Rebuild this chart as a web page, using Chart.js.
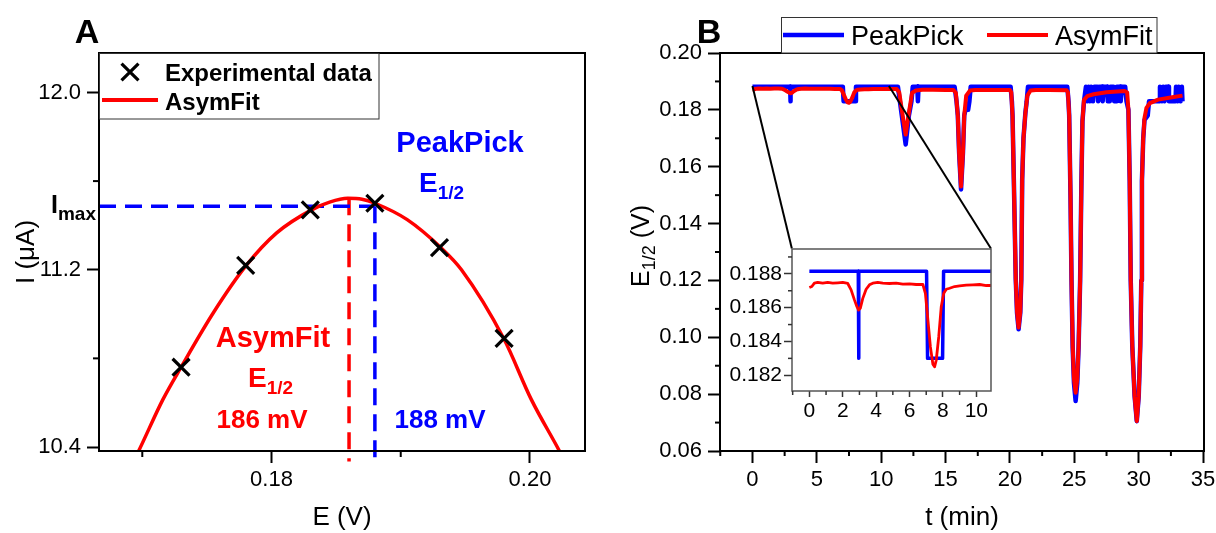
<!DOCTYPE html>
<html lang="en">
<head>
<meta charset="UTF-8">
<title>PeakPick vs AsymFit E1/2</title>
<script src="https://cdn.jsdelivr.net/npm/chart.js"></script>
<style>
body { margin:0; background:#fff; width:1216px; height:533px; overflow:hidden; position:relative; }
.box { position:absolute; }
#wrapA { left:0; top:0; width:610px; height:533px; }
#wrapB { left:610px; top:0; width:606px; height:533px; }
#wrapIn { left:725px; top:240px; width:275px; height:195px; }
</style>
</head>
<body>
<div class="box" id="wrapA"><canvas id="chartA" width="610" height="533"></canvas></div>
<div class="box" id="wrapB"><canvas id="chartB" width="606" height="533"></canvas></div>
<div class="box" id="wrapIn"><canvas id="chartIn" width="275" height="195"></canvas></div>
<script>
// ---- panel A: a single peak, experimental points and the AsymFit curve
const expE = [0.173, 0.178, 0.183, 0.188, 0.193, 0.198];
const expI = [10.76, 11.22, 11.47, 11.50, 11.30, 10.89];
const fitE = [0.1690, 0.1697, 0.1716, 0.1730, 0.1755, 0.1780, 0.1804, 0.1831, 0.1845, 0.1859, 0.1870, 0.1880, 0.1905, 0.1931, 0.1947, 0.1980, 0.2001, 0.2023, 0.2030];
const fitI = [10.30, 10.38, 10.615, 10.76, 11.006, 11.216, 11.366, 11.47, 11.505, 11.522, 11.518, 11.50, 11.426, 11.30, 11.20, 10.886, 10.615, 10.38, 10.30];
// dashed guides: Imax level, PeakPick E1/2 (188 mV), AsymFit E1/2 (186 mV)
const imaxE = [0.16665, 0.188];
const imaxI = [11.486, 11.486];
const ppE = [0.188, 0.188];
const ppI = [11.486, 10.335];
const afE = [0.186, 0.186];
const afI = [11.522, 10.335];
const aXLabels = [0.18, 0.20];
const aYLabels = [10.4, 11.2, 12.0];

// ---- panel B: E1/2 vs time, [t (min), E1/2 (V)]
const asymFit = [
  [0,0.18719],[0.15,0.18725],[0.3,0.18745],[0.5,0.1875],[0.8,0.18745],[1.1,0.18749],[1.4,0.18745],[1.7,0.18747],[2.0,0.18749],[2.3,0.18743],
  [2.5,0.18705],[2.7,0.18646],[2.85,0.18606],[2.95,0.18586],[3.05,0.18596],[3.2,0.18655],[3.4,0.18709],[3.6,0.18735],[3.8,0.18745],
  [4.1,0.18749],[4.4,0.18745],[4.8,0.18743],[5.2,0.18745],[5.6,0.18739],[6.0,0.18741],[6.4,0.18737],[6.8,0.18737],
  [6.95,0.18685],[7.1,0.18527],[7.25,0.18368],[7.4,0.18265],[7.5,0.1825],[7.6,0.18289],[7.75,0.18428],[7.9,0.18606],[8.05,0.18685],
  [8.2,0.18709],[8.4,0.18715],[8.7,0.18725],[9.0,0.18729],[9.4,0.18733],[9.8,0.18735],[10.2,0.18737],[10.6,0.18731],[10.9,0.18731],
  [11.2,0.1873],[11.4,0.1862],[11.6,0.18],[11.9,0.1713],[12.15,0.179],[12.4,0.186],[12.7,0.1868],[13.2,0.1871],[14.0,0.1871],[15.0,0.187],
  [15.6,0.187],[15.8,0.186],[15.95,0.178],[16.05,0.165],[16.2,0.153],[16.35,0.165],[16.45,0.178],[16.6,0.185],[16.9,0.1868],[17.3,0.187],[18.5,0.187],
  [20.0,0.187],[20.1,0.1862],[20.2,0.178],[20.3,0.1555],[20.45,0.1203],[20.55,0.109],[20.67,0.1034],[20.8,0.109],[20.88,0.1203],[20.95,0.1555],
  [21.05,0.17],[21.2,0.179],[21.35,0.185],[21.6,0.1868],[22.0,0.187],[23.0,0.187],
  [24.4,0.1869],[24.5,0.1862],[24.6,0.178],[24.7,0.15],[24.78,0.12],[24.87,0.097],[24.97,0.0855],[25.1,0.0805],[25.23,0.0855],[25.33,0.097],
  [25.45,0.12],[25.55,0.155],[25.63,0.176],[25.75,0.1835],[26.0,0.1848],[26.5,0.1855],[27.5,0.1862],[28.9,0.1866],
  [29.1,0.1862],[29.2,0.18],[29.3,0.155],[29.38,0.12],[29.5,0.097],[29.68,0.0793],[29.85,0.0705],[30.0,0.0793],[30.12,0.097],[30.2,0.12],
  [30.25,0.155],[30.35,0.17],[30.45,0.1772],[30.6,0.1807],[30.87,0.1824],[31.5,0.1836],[32.6,0.1844],[33.4,0.185]
];
const peakPick = [
  [0,0.18815],[2.93,0.18815],[2.95,0.183],[2.97,0.18815],[7.02,0.18815],[7.08,0.183],[7.98,0.183],[8.04,0.18815],
  [11.3,0.18815],[11.45,0.183],[11.6,0.178],[11.9,0.1678],[12.15,0.178],[12.35,0.183],[12.45,0.18815],[12.8,0.18815],[12.85,0.183],[12.9,0.18815],
  [15.7,0.18815],[15.85,0.183],[15.95,0.178],[16.05,0.165],[16.2,0.152],[16.35,0.165],[16.45,0.178],[16.55,0.18],[16.75,0.18],[16.85,0.183],[16.95,0.18815],
  [20.05,0.18815],[20.15,0.183],[20.2,0.178],[20.3,0.1555],[20.45,0.1203],[20.55,0.1085],[20.67,0.1028],[20.8,0.1085],[20.88,0.1203],[20.95,0.1555],
  [21.05,0.17],[21.2,0.179],[21.3,0.183],[21.4,0.18815],
  [24.45,0.18815],[24.55,0.183],[24.6,0.178],[24.7,0.15],[24.78,0.12],[24.87,0.0965],[24.97,0.084],[25.1,0.0776],[25.23,0.084],[25.33,0.0965],
  [25.45,0.12],[25.55,0.155],[25.63,0.176],[25.75,0.183],
  [25.9,0.18815],[26.0,0.183],[26.1,0.18815],[26.2,0.183],[26.3,0.18815],[26.45,0.183],[26.55,0.18815],[26.8,0.18815],[26.85,0.183],[26.95,0.18815],
  [27.15,0.18815],[27.2,0.183],[27.3,0.18815],[27.55,0.18815],[27.6,0.183],[27.75,0.183],[27.8,0.18815],[28.05,0.18815],[28.1,0.183],[28.25,0.183],
  [28.3,0.18815],[28.55,0.18815],[28.6,0.183],[28.7,0.18815],[28.95,0.18815],[29.05,0.183],
  [29.2,0.18],[29.3,0.155],[29.38,0.12],[29.5,0.097],[29.68,0.0793],[29.85,0.0705],[30.0,0.0793],[30.12,0.097],[30.2,0.12],
  [30.25,0.155],[30.35,0.17],[30.45,0.1765],[30.7,0.178],[30.8,0.183],
  [31.6,0.183],[31.65,0.18815],[31.8,0.183],[31.9,0.18815],[32.0,0.183],[32.1,0.18815],[32.3,0.18815],[32.35,0.183],[32.85,0.183],[32.9,0.18815],
  [33.0,0.183],[33.1,0.18815],[33.25,0.183],[33.35,0.18815],[33.4,0.183]
];
// zoom links from the main trace to the inset corners
const linkLeft = [[0, 0.1884], [3.06, 0.1312]];
const linkRight = [[10.6, 0.1884], [18.52, 0.1312]];
const bXLabels = [0, 5, 10, 15, 20, 25, 30, 35];
const bYLabels = [0.06, 0.08, 0.10, 0.12, 0.14, 0.16, 0.18, 0.20];
const inXLabels = [0, 2, 4, 6, 8, 10];
const inYLabels = [0.182, 0.184, 0.186, 0.188];

const FONT = '"Liberation Sans", Arial, sans-serif';
const RED = '#ff0000', BLUE = '#0000ff';
Chart.defaults.font.family = FONT;
Chart.defaults.color = '#000';
Chart.defaults.animation = false;

function pts(xs, ys) { return xs.map((x, i) => ({x: x, y: ys[i]})); }
function pairs(a) { return a.map(p => ({x: p[0], y: p[1]})); }
function labelFrom(list, digits) {
  return v => {
    const hit = list.find(t => Math.abs(t - v) < 1e-7);
    return hit === undefined ? '' : hit.toFixed(digits);
  };
}
function tickGrid(len, w, col) {
  return {
    drawOnChartArea: false, drawTicks: true, tickLength: len, tickWidth: w,
    color: 'rgba(0,0,0,0)',
    tickColor: c => (c.tick && c.tick.label !== '') ? col : 'rgba(0,0,0,0)'
  };
}
function fixW(w) { return s => { s.width = w; s.paddingTop = s.paddingBottom = s.paddingLeft = s.paddingRight = 0; }; }
function fixH(h) { return s => { s.height = h; s.paddingTop = s.paddingBottom = s.paddingLeft = s.paddingRight = 0; }; }
function line(data, color, width, extra) {
  return Object.assign({data: data, showLine: true, borderColor: color, backgroundColor: color,
    borderWidth: width, pointRadius: 0, tension: 0, borderJoinStyle: 'round'}, extra || {});
}

// text with a subscript part, x = left edge, y = centre of the capitals
function subText(ctx, x, y, main, sub, size, subSize, color, bold, rest) {
  const w = bold ? 'bold ' : '';
  ctx.save();
  ctx.fillStyle = color;
  ctx.textAlign = 'left';
  ctx.textBaseline = 'alphabetic';
  const base = y + size * 0.36;
  ctx.font = w + size + 'px ' + FONT;
  ctx.fillText(main, x, base);
  let cx = x + ctx.measureText(main).width;
  ctx.font = w + subSize + 'px ' + FONT;
  ctx.fillText(sub, cx, base + subSize * 0.35);
  cx += ctx.measureText(sub).width;
  if (rest) {
    ctx.font = w + size + 'px ' + FONT;
    ctx.fillText(rest, cx, base);
  }
  ctx.restore();
}
function subWidth(ctx, main, sub, size, subSize, bold, rest) {
  const w = bold ? 'bold ' : '';
  ctx.save();
  ctx.font = w + size + 'px ' + FONT;
  let t = ctx.measureText(main).width + (rest ? ctx.measureText(rest).width : 0);
  ctx.font = w + subSize + 'px ' + FONT;
  t += ctx.measureText(sub).width;
  ctx.restore();
  return t;
}
function centreText(ctx, str, x, y, size, color, bold) {
  ctx.save();
  ctx.fillStyle = color;
  ctx.textAlign = 'center';
  ctx.textBaseline = 'alphabetic';
  ctx.font = (bold ? 'bold ' : '') + size + 'px ' + FONT;
  ctx.fillText(str, x, y + size * 0.36);
  ctx.restore();
}
function leftText(ctx, str, x, y, size, color, bold) {
  ctx.save();
  ctx.fillStyle = color;
  ctx.textAlign = 'left';
  ctx.textBaseline = 'alphabetic';
  ctx.font = (bold ? 'bold ' : '') + size + 'px ' + FONT;
  ctx.fillText(str, x, y + size * 0.36);
  ctx.restore();
}

// box around the plot area
const frame = {
  id: 'frame',
  afterDatasetsDraw(chart, args, opts) {
    const a = chart.chartArea, ctx = chart.ctx;
    ctx.save();
    ctx.strokeStyle = opts.color;
    ctx.lineWidth = opts.width;
    ctx.strokeRect(a.left, a.top, a.right - a.left, a.bottom - a.top);
    ctx.restore();
  }
};
// short ticks for the unlabelled values
const minorTicks = {
  id: 'minorTicks',
  afterDraw(chart, args, opts) {
    const ctx = chart.ctx;
    ctx.save();
    ctx.strokeStyle = opts.color;
    ctx.lineWidth = opts.width;
    ['x', 'y'].forEach(id => {
      const s = chart.scales[id];
      s.ticks.forEach(t => {
        if (t.label !== '') return;
        const p = s.getPixelForValue(t.value);
        ctx.beginPath();
        if (id === 'x') { ctx.moveTo(p, s.top); ctx.lineTo(p, s.top + opts.len); }
        else { ctx.moveTo(s.right, p); ctx.lineTo(s.right - opts.len, p); }
        ctx.stroke();
      });
    });
    ctx.restore();
  }
};

// ---------------- chart A
new Chart(document.getElementById('chartA'), {
  type: 'scatter',
  data: {
    datasets: [
      {label: 'Experimental data', data: pts(expE, expI), pointStyle: 'crossRot', pointRadius: 12,
       pointBorderWidth: 3.2, borderColor: '#000', backgroundColor: '#000', showLine: false},
      line(pts(fitE, fitI), RED, 3.5, {label: 'AsymFit', cubicInterpolationMode: 'monotone'}),
      line(pts(imaxE, imaxI), BLUE, 3.5, {label: 'Imax', borderDash: [17, 9], clip: false}),
      line(pts(ppE, ppI), BLUE, 3.5, {label: 'PeakPick E1/2', borderDash: [17, 9], clip: false}),
      line(pts(afE, afI), RED, 3.5, {label: 'AsymFit E1/2', borderDash: [17, 9], clip: false})
    ]
  },
  options: {
    responsive: false, devicePixelRatio: 1,
    layout: {padding: {left: 0, top: 53, right: 25, bottom: 0}},
    plugins: {legend: {display: false}, tooltip: {enabled: false},
      frame: {color: '#000', width: 2}, minorTicks: {len: 6, width: 2, color: '#000'}},
    scales: {
      x: {type: 'linear', min: 0.16665, max: 0.20426, afterFit: fixH(82),
        border: {display: false}, grid: tickGrid(12, 2, '#000'),
        ticks: {stepSize: 0.01, includeBounds: false, autoSkip: false, maxRotation: 0,
          padding: 4, font: {size: 22}, color: '#000', callback: labelFrom(aXLabels, 2)},
        title: {display: true, text: 'E (V)', font: {size: 26}, color: '#000', padding: {top: 0, bottom: 0}}},
      y: {type: 'linear', min: 10.382, max: 12.178, afterFit: fixW(99),
        border: {display: false}, grid: tickGrid(12, 2, '#000'),
        ticks: {stepSize: 0.4, includeBounds: false, autoSkip: false,
          padding: 6, font: {size: 22}, color: '#000', callback: labelFrom(aYLabels, 1)},
        title: {display: true, text: 'I (\u03bcA)', font: {size: 26}, color: '#000', padding: {top: 11, bottom: 0}}}
    }
  },
  plugins: [frame, minorTicks, {
    id: 'decorA',
    afterDraw(chart) {
      const ctx = chart.ctx;
      centreText(ctx, 'A', 87, 31, 34, '#000', true);
      // legend
      ctx.save();
      ctx.fillStyle = '#fff';
      ctx.fillRect(99, 53, 280, 66);
      ctx.strokeStyle = '#333';
      ctx.lineWidth = 1;
      ctx.strokeRect(99.5, 53.5, 279.5, 65.5);
      ctx.strokeStyle = '#000';
      ctx.lineWidth = 3.2;
      Chart.helpers.drawPoint(ctx, {pointStyle: 'crossRot', radius: 12, borderWidth: 3.2, rotation: 0}, 130, 72);
      ctx.strokeStyle = RED;
      ctx.lineWidth = 4;
      ctx.beginPath(); ctx.moveTo(102, 100); ctx.lineTo(158, 100); ctx.stroke();
      ctx.restore();
      const ds = chart.data.datasets;
      leftText(ctx, ds[0].label, 165, 72, 24, '#000', true);
      leftText(ctx, ds[1].label, 165, 101, 24, '#000', true);
      // annotations
      centreText(ctx, 'PeakPick', 460, 142, 29, BLUE, true);
      subText(ctx, 419, 182, 'E', '1/2', 28, 19, BLUE, true);
      centreText(ctx, 'AsymFit', 273, 337, 29, RED, true);
      subText(ctx, 248, 377, 'E', '1/2', 28, 19, RED, true);
      centreText(ctx, '186 mV', 262, 419, 26, RED, true);
      centreText(ctx, '188 mV', 440, 419, 26, BLUE, true);
      subText(ctx, 51, 204, 'I', 'max', 25, 19, '#000', true);
    }
  }]
});

// ---------------- chart B
new Chart(document.getElementById('chartB'), {
  type: 'scatter',
  data: {
    datasets: [
      line(pairs(linkLeft), '#000', 2, {label: 'link1'}),
      line(pairs(linkRight), '#000', 2, {label: 'link2'}),
      line(pairs(asymFit), RED, 4, {label: 'AsymFit'}),
      line(pairs(peakPick), BLUE, 4.5, {label: 'PeakPick'})
    ]
  },
  options: {
    responsive: false, devicePixelRatio: 1,
    layout: {padding: {left: 0, top: 53, right: 12, bottom: 0}},
    plugins: {legend: {display: false}, tooltip: {enabled: false},
      frame: {color: '#000', width: 2}, minorTicks: {len: 5, width: 2, color: '#000'}},
    scales: {
      x: {type: 'linear', min: -2.52, max: 35.07, afterFit: fixH(82),
        border: {display: false}, grid: tickGrid(12, 2, '#000'),
        ticks: {stepSize: 2.5, includeBounds: false, autoSkip: false, maxRotation: 0,
          padding: 4, font: {size: 22}, color: '#000', callback: labelFrom(bXLabels, 0)},
        title: {display: true, text: 't (min)', font: {size: 26}, color: '#000', padding: {top: 0, bottom: 0}}},
      y: {type: 'linear', min: 0.06, max: 0.20, afterFit: fixW(110),
        border: {display: false}, grid: tickGrid(12, 2, '#000'),
        ticks: {stepSize: 0.01, includeBounds: false, autoSkip: false,
          padding: 6, font: {size: 22}, color: '#000', callback: labelFrom(bYLabels, 2)},
        title: {display: false}}
    }
  },
  plugins: [frame, minorTicks, {
    id: 'decorB',
    afterDraw(chart) {
      const ctx = chart.ctx;
      centreText(ctx, 'B', 99, 31, 34, '#000', true);
      // rotated axis title E1/2 (V)
      ctx.save();
      ctx.translate(30, 246);
      ctx.rotate(-Math.PI / 2);
      const tw = subWidth(ctx, 'E', '1/2', 25, 18, false, ' (V)');
      subText(ctx, -tw / 2, 0, 'E', '1/2', 25, 18, '#000', false, ' (V)');
      ctx.restore();
      // legend
      ctx.save();
      ctx.fillStyle = '#fff';
      ctx.fillRect(171, 17, 376, 36);
      ctx.strokeStyle = '#333';
      ctx.lineWidth = 1;
      ctx.strokeRect(171.5, 17.5, 375.5, 35.5);
      ctx.lineWidth = 4.5;
      ctx.strokeStyle = BLUE;
      ctx.beginPath(); ctx.moveTo(173, 35); ctx.lineTo(234, 35); ctx.stroke();
      ctx.strokeStyle = RED;
      ctx.lineWidth = 4;
      ctx.beginPath(); ctx.moveTo(377, 35); ctx.lineTo(438, 35); ctx.stroke();
      ctx.restore();
      const ds = chart.data.datasets;
      leftText(ctx, ds[3].label, 241, 35, 27, '#000', false);
      leftText(ctx, ds[2].label, 445, 35, 27, '#000', false);
    }
  }]
});

// ---------------- inset: first 11 minutes
new Chart(document.getElementById('chartIn'), {
  type: 'scatter',
  data: {
    datasets: [
      line(pairs(asymFit), RED, 2.8, {label: 'AsymFit'}),
      line(pairs(peakPick), BLUE, 3.5, {label: 'PeakPick'})
    ]
  },
  options: {
    responsive: false, devicePixelRatio: 1,
    layout: {padding: {left: 0, top: 9, right: 9, bottom: 0}},
    plugins: {legend: {display: false}, tooltip: {enabled: false},
      frame: {color: '#555', width: 1.5}, minorTicks: {len: 4, width: 1.5, color: '#333'}},
    scales: {
      x: {type: 'linear', min: -1.04, max: 10.88, afterFit: fixH(44),
        border: {display: false}, grid: tickGrid(6, 1.5, '#333'),
        ticks: {stepSize: 1, includeBounds: false, autoSkip: false, maxRotation: 0,
          padding: 2, font: {size: 21}, color: '#000', callback: labelFrom(inXLabels, 0)}},
      y: {type: 'linear', min: 0.18107, max: 0.18947, afterFit: fixW(67),
        border: {display: false}, grid: tickGrid(8, 1.5, '#333'),
        ticks: {stepSize: 0.001, includeBounds: false, autoSkip: false,
          padding: 2, font: {size: 21}, color: '#000', callback: labelFrom(inYLabels, 3)}}
    }
  },
  plugins: [{
    id: 'insetBg',
    beforeDraw(chart) {
      const a = chart.chartArea, ctx = chart.ctx;
      ctx.save();
      ctx.fillStyle = '#fff';
      ctx.fillRect(a.left, a.top, a.right - a.left, a.bottom - a.top);
      ctx.restore();
    }
  }, frame, minorTicks]
});
</script>
</body>
</html>
